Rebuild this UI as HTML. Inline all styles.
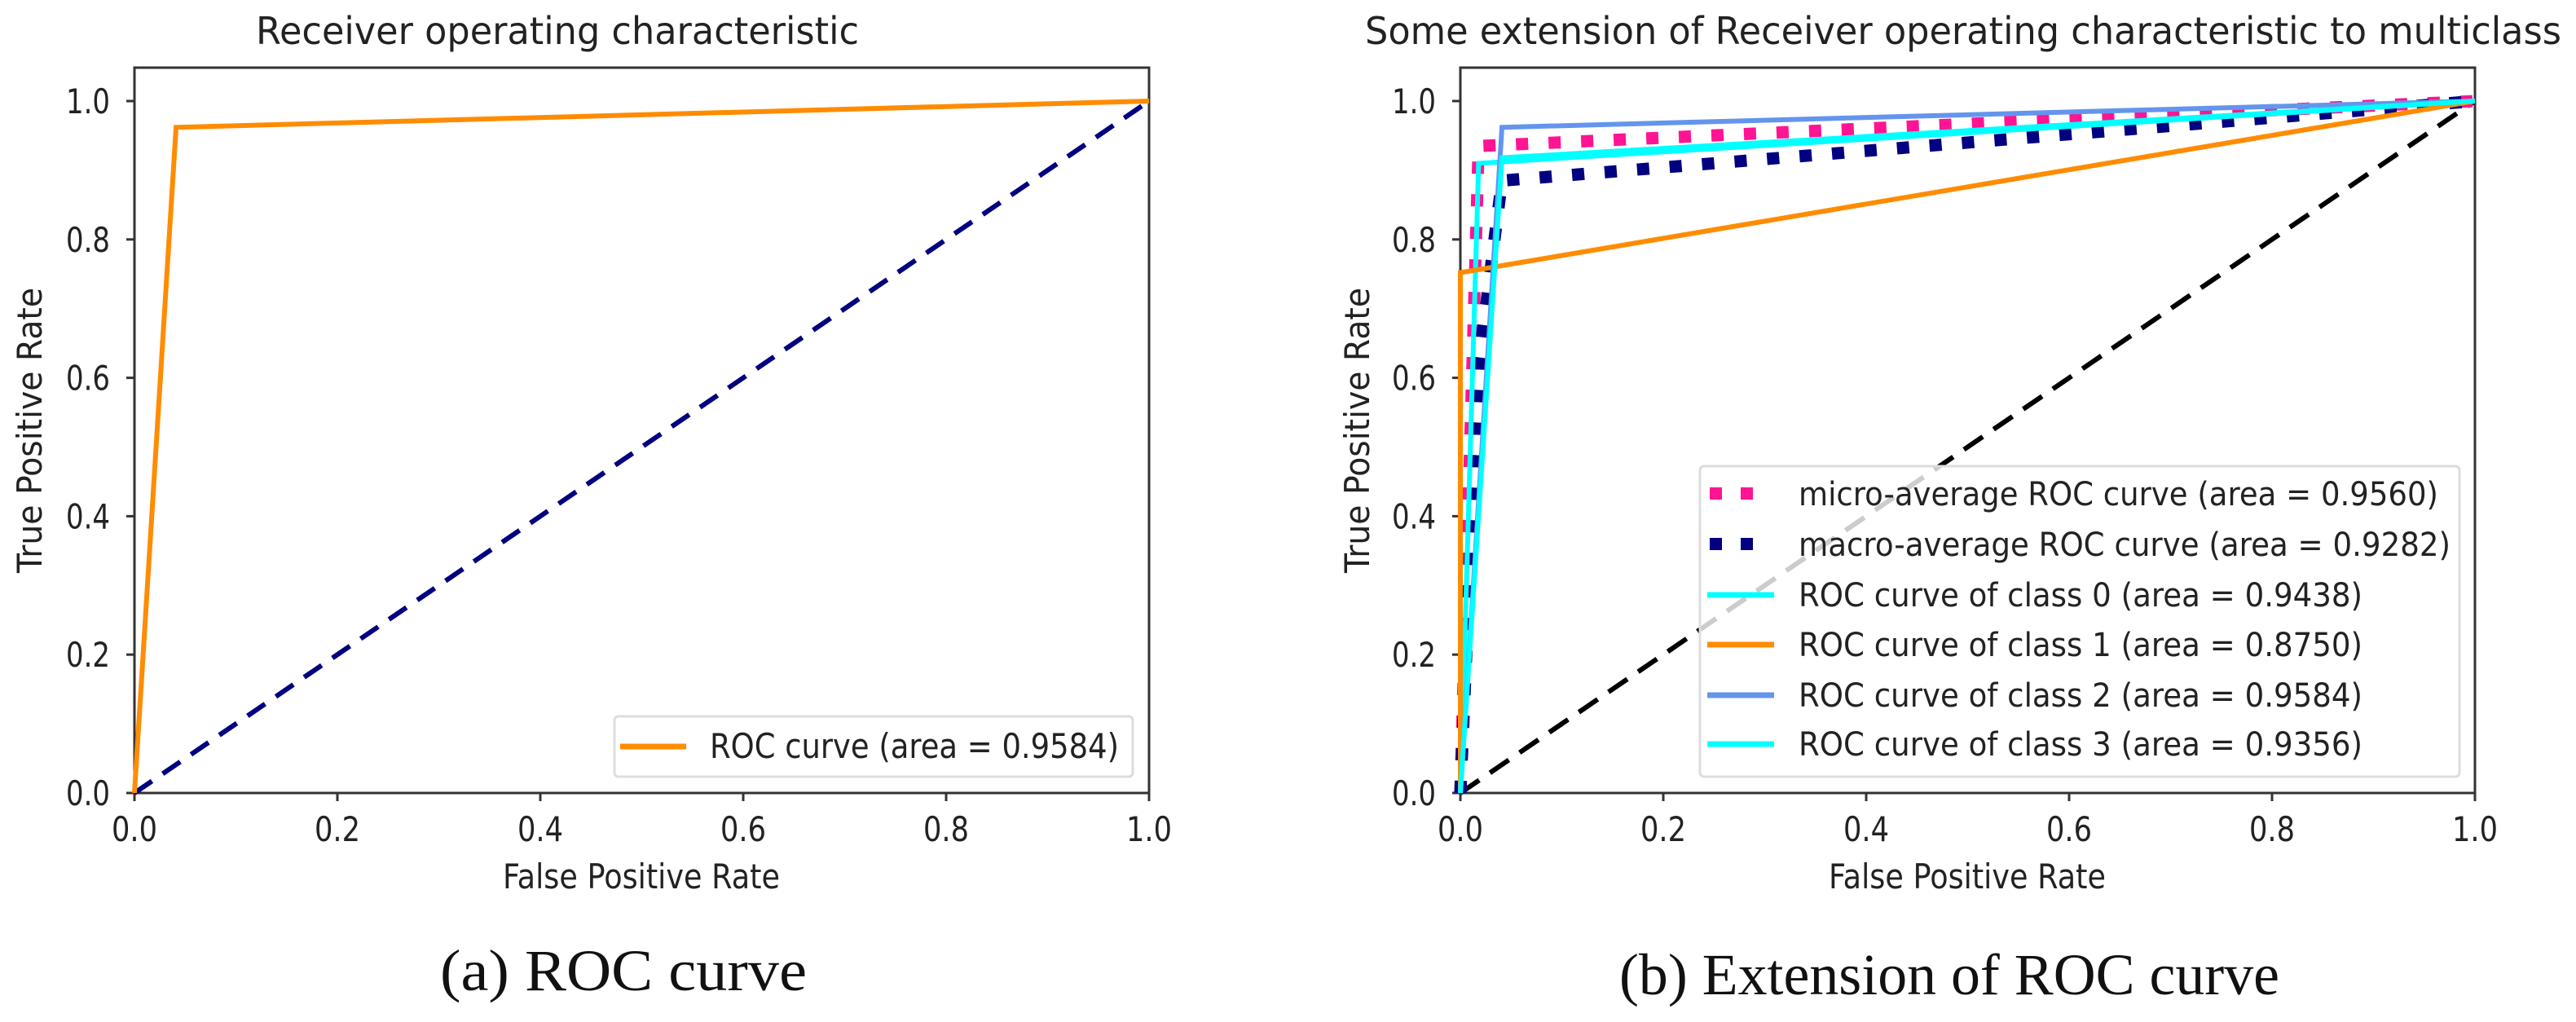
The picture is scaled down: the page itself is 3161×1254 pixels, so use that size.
<!DOCTYPE html>
<html><head><meta charset="utf-8"><style>
html,body{margin:0;padding:0;background:#fff;}
svg{display:block;}
text{font-family:"DejaVu Sans","Liberation Sans",sans-serif;fill:#222;}
.cap{font-family:"Liberation Serif",serif;fill:#111;}
</style></head><body>
<svg id="fig" width="3161" height="1254" viewBox="0 0 3161 1254" xmlns="http://www.w3.org/2000/svg"></svg>
<script>
// ---- data ----
const xTicks = [0, 0.2, 0.4, 0.6, 0.8, 1.0];
const yTicks = [0, 0.2, 0.4, 0.6, 0.8, 1.0];
const tickLabels = ["0.0","0.2","0.4","0.6","0.8","1.0"];
const rocAX = [0, 0.041, 1];
const rocAY = [0, 0.962, 1];
const chanceX = [0, 1];
const chanceY = [0, 1];
const microX = [0, 0.018, 1];
const microY = [0, 0.935, 1];
const macroX = [0, 0.018, 0.041, 1];
const macroY = [0, 0.62, 0.885, 1];
const class0X = [0, 0.018, 1];
const class0Y = [0, 0.91, 1];
const class1X = [0, 0, 1];
const class1Y = [0, 0.752, 1];
const class2X = [0, 0.041, 1];
const class2Y = [0, 0.962, 1];
const class3X = [0, 0.041, 1];
const class3Y = [0, 0.918, 1];

const NS = "http://www.w3.org/2000/svg";
const svg = document.getElementById('fig');
function mk(tag, attrs, parent) {
  const e = document.createElementNS(NS, tag);
  for (const k in attrs) e.setAttribute(k, attrs[k]);
  (parent || svg).appendChild(e);
  return e;
}
function txt(s, attrs, parent) { const t = mk('text', attrs, parent); t.textContent = s; return t; }

function makeAxes(left, right, top, y0, y1, name) {
  const g = mk('g', {});
  
  
  const sx = v => left + v * (right - left);
  const sy = v => y0 - v * (y0 - y1);
  const spine = mk('rect', {x:left, y:top, width:right-left, height:y0-top, fill:'none', stroke:'#333', 'stroke-width':3}, g);
  
  
  xTicks.forEach((v, i) => {
    mk('line', {x1:sx(v), x2:sx(v), y1:y0, y2:y0+10, stroke:'#333', 'stroke-width':3}, g);
    const t = txt(tickLabels[i], {x:sx(v), y:1032, 'font-size':42, 'text-anchor':'middle', textLength:56, lengthAdjust:'spacingAndGlyphs'}, g);
    
    
  });
  yTicks.forEach((v, i) => {
    mk('line', {x1:left-10, x2:left, y1:sy(v), y2:sy(v), stroke:'#333', 'stroke-width':3}, g);
    const t = txt(tickLabels[i], {x:left-30, y:sy(v)+15, 'font-size':42, 'text-anchor':'end', textLength:54, lengthAdjust:'spacingAndGlyphs'}, g);
    
    
  });
  return {sx, sy, g};
}
function poly(ax, xs, ys, style, name) {
  const pts = xs.map((x, i) => ax.sx(x) + ',' + ax.sy(ys[i])).join(' ');
  const p = mk('polyline', Object.assign({points:pts, fill:'none'}, style));
  
  
  return p;
}

// ---- left chart ----
const A = makeAxes(165, 1410, 83, 973, 124, 'roc-axes');
poly(A, chanceX, chanceY, {stroke:'#000080', 'stroke-width':6, 'stroke-dasharray':'26 16'}, 'chance-line');
poly(A, rocAX, rocAY, {stroke:'#ff8c00', 'stroke-width':6}, 'roc-curve');
let t;
t = txt('Receiver operating characteristic', {x:314, y:54, 'font-size':46, textLength:740, lengthAdjust:'spacingAndGlyphs'});
 
t = txt('False Positive Rate', {x:787, y:1090, 'font-size':42, 'text-anchor':'middle', textLength:340, lengthAdjust:'spacingAndGlyphs'});
 
t = txt('True Positive Rate', {x:0, y:0, 'font-size':42, 'text-anchor':'middle', textLength:350, lengthAdjust:'spacingAndGlyphs', transform:'translate(51,528) rotate(-90)'});
 
const lgA = mk('g', {});
 
mk('rect', {x:754, y:879, width:636, height:74, rx:5, fill:'#fff', 'fill-opacity':0.8, stroke:'#ddd', 'stroke-width':3}, lgA);
mk('line', {x1:761, x2:842, y1:916, y2:916, stroke:'#ff8c00', 'stroke-width':7}, lgA);
t = txt('ROC curve (area = 0.9584)', {x:871, y:930, 'font-size':42, textLength:502, lengthAdjust:'spacingAndGlyphs'}, lgA);
 
t = txt('(a)  ROC curve', {x:765, y:1215, 'font-size':72, 'text-anchor':'middle', class:'cap', textLength:450, lengthAdjust:'spacingAndGlyphs'});
 

// ---- right chart ----
const B = makeAxes(1792, 3037, 83, 973, 124, 'multiclass-axes');
poly(B, chanceX, chanceY, {stroke:'#000', 'stroke-width':6, 'stroke-dasharray':'28 16'}, 'chance-line');
poly(B, microX, microY, {stroke:'#ff1493', 'stroke-width':15, 'stroke-dasharray':'15 25'}, 'micro-average-curve');
poly(B, macroX, macroY, {stroke:'#000080', 'stroke-width':15, 'stroke-dasharray':'15 25'}, 'macro-average-curve');
poly(B, class0X, class0Y, {stroke:'#00ffff', 'stroke-width':6}, 'class-0-curve');
poly(B, class1X, class1Y, {stroke:'#ff8c00', 'stroke-width':6}, 'class-1-curve');
poly(B, class2X, class2Y, {stroke:'#6495ed', 'stroke-width':6}, 'class-2-curve');
poly(B, class3X, class3Y, {stroke:'#00ffff', 'stroke-width':6}, 'class-3-curve');
t = txt('Some extension of Receiver operating characteristic to multiclass', {x:1675, y:54, 'font-size':46, textLength:1468, lengthAdjust:'spacingAndGlyphs'});
 
t = txt('False Positive Rate', {x:2414, y:1090, 'font-size':42, 'text-anchor':'middle', textLength:340, lengthAdjust:'spacingAndGlyphs'});
 
t = txt('True Positive Rate', {x:0, y:0, 'font-size':42, 'text-anchor':'middle', textLength:350, lengthAdjust:'spacingAndGlyphs', transform:'translate(1680,528) rotate(-90)'});
 

const lgB = mk('g', {});
 
mk('rect', {x:2086, y:572, width:932, height:381, rx:5, fill:'#fff', 'fill-opacity':0.8, stroke:'#ddd', 'stroke-width':3}, lgB);
const legLabels = ['micro-average ROC curve (area = 0.9560)','macro-average ROC curve (area = 0.9282)','ROC curve of class 0 (area = 0.9438)','ROC curve of class 1 (area = 0.8750)','ROC curve of class 2 (area = 0.9584)','ROC curve of class 3 (area = 0.9356)'];
const legColors = ['#ff1493','#000080','#00ffff','#ff8c00','#6495ed','#00ffff'];
const legY = [606, 668, 730, 791, 853, 913];
const legW = [785, 800, 692, 692, 692, 692];
legLabels.forEach((s, i) => {
  if (i < 2) {
    mk('rect', {x:2098, y:legY[i]-8, width:15, height:15, fill:legColors[i]}, lgB);
    mk('rect', {x:2136, y:legY[i]-8, width:15, height:15, fill:legColors[i]}, lgB);
  } else {
    mk('line', {x1:2095, x2:2177, y1:legY[i], y2:legY[i], stroke:legColors[i], 'stroke-width':7}, lgB);
  }
  const e = txt(s, {x:2207, y:legY[i]+14, 'font-size':40, textLength:legW[i], lengthAdjust:'spacingAndGlyphs'}, lgB);
  
  
});
t = txt('(b)  Extension of ROC curve', {x:2392, y:1220, 'font-size':72, 'text-anchor':'middle', class:'cap', textLength:810, lengthAdjust:'spacingAndGlyphs'});
 
</script>
</body></html>
